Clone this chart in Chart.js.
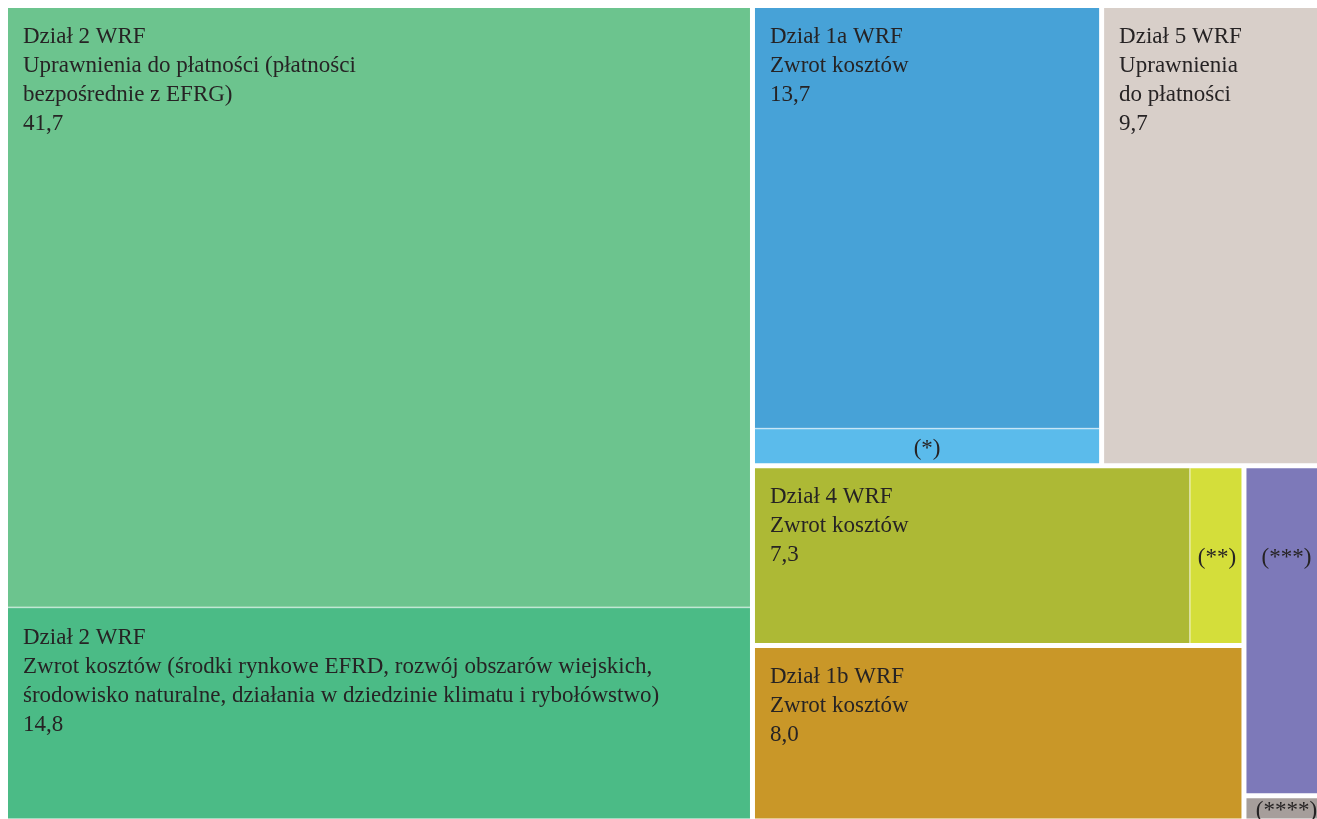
<!DOCTYPE html>
<html lang="pl">

<head>
    <meta charset="UTF-8">
    <title>Podział wydatków WRF</title>
    <script src="https://cdn.jsdelivr.net/npm/chart.js"></script>
    <style>
        body { margin: 0; background: #ffffff; }
        #wrap { width: 1317px; height: 819px; position: relative; }
    </style>
</head>

<body>
    <div id="wrap"><canvas id="treeChart"></canvas></div>

    <script>
        // Cells of the treemap, in drawing order
        const headings = ["Dział 2 WRF", "Dział 2 WRF", "Dział 1a WRF", "", "Dział 5 WRF", "Dział 4 WRF", "", "Dział 1b WRF", "", ""];
        const descriptions = [
            ["Uprawnienia do płatności (płatności", "bezpośrednie z EFRG)"],
            ["Zwrot kosztów (środki rynkowe EFRD, rozwój obszarów wiejskich,", "środowisko naturalne, działania w dziedzinie klimatu i rybołówstwo)"],
            ["Zwrot kosztów"],
            [],
            ["Uprawnienia", "do płatności"],
            ["Zwrot kosztów"],
            [],
            ["Zwrot kosztów"],
            [],
            []
        ];
        const values = [41.7, 14.8, 13.7, 1.2, 9.7, 7.3, 0.9, 8.0, 2.6, 0.2];
        const showValue = [true, true, true, false, true, true, false, true, false, false];
        const footnotes = ["", "", "", "(*)", "", "", "(**)", "", "(***)", "(****)"];

        // Which cells belong together (white gap between groups, thin line inside)
        const groupOf = [0, 0, 1, 1, 2, 3, 3, 4, 5, 6];

        const colors = ["#6cc48e", "#4bbb86", "#47a2d7", "#5bbbeb", "#d8cfc9",
                        "#adb935", "#d4de3a", "#c99728", "#7d79b9", "#a69e9b"];

        // Split structure: 'h' = side by side, 'v' = stacked; numbers are cell indexes
        const splitTree = { dir: "h", children: [
            { dir: "v", children: [0, 1] },
            { dir: "v", children: [
                { dir: "h", children: [{ dir: "v", children: [2, 3] }, 4] },
                { dir: "h", children: [
                    { dir: "v", children: [{ dir: "h", children: [5, 6] }, 7] },
                    { dir: "v", children: [8, 9] }
                ] }
            ] }
        ] };

        function nodeSum(node) {
            if (typeof node === "number") return values[node];
            return node.children.reduce((s, c) => s + nodeSum(c), 0);
        }

        // slice and dice layout in data units (box 0..1 x 0..1)
        let cells = [];
        function layout(node, x0, y0, x1, y1) {
            if (typeof node === "number") {
                cells[node] = { x0: x0, y0: y0, x1: x1, y1: y1 };
                return;
            }
            let total = nodeSum(node);
            let pos = node.dir === "h" ? x0 : y0;
            node.children.forEach(child => {
                let frac = nodeSum(child) / total;
                if (node.dir === "h") {
                    let next = pos + frac * (x1 - x0);
                    layout(child, pos, y0, next, y1);
                    pos = next;
                } else {
                    let next = pos + frac * (y1 - y0);
                    layout(child, x0, pos, x1, next);
                    pos = next;
                }
            });
        }
        layout(splitTree, 0, 0, 1, 1);

        // the picture is cropped a little at the right and bottom
        const X_VIEW = 0.991;
        const Y_VIEW = 0.9974;
        const GAP = 2.5;
        const FONT = "23px 'Liberation Serif', 'Times New Roman', serif";
        const TEXT_COLOR = "#262324";

        function fmt(v) {
            return v.toFixed(1).replace(".", ",");
        }

        const treemapPlugin = {
            id: "treemapCells",
            afterDatasetsDraw(chart) {
                const ctx = chart.ctx;
                const xs = chart.scales.x, ys = chart.scales.y;
                const px = c => ({
                    l: xs.getPixelForValue(c.x0), r: xs.getPixelForValue(c.x1),
                    t: ys.getPixelForValue(c.y0), b: ys.getPixelForValue(c.y1)
                });

                // group bounds
                let groups = {};
                cells.forEach((c, i) => {
                    let g = groupOf[i];
                    if (!groups[g]) groups[g] = { x0: c.x0, y0: c.y0, x1: c.x1, y1: c.y1 };
                    else {
                        groups[g].x0 = Math.min(groups[g].x0, c.x0);
                        groups[g].y0 = Math.min(groups[g].y0, c.y0);
                        groups[g].x1 = Math.max(groups[g].x1, c.x1);
                        groups[g].y1 = Math.max(groups[g].y1, c.y1);
                    }
                });

                Object.keys(groups).forEach(g => {
                    let gp = px(groups[g]);
                    ctx.save();
                    ctx.beginPath();
                    ctx.rect(gp.l + GAP, gp.t + GAP, gp.r - gp.l - 2 * GAP, gp.b - gp.t - 2 * GAP);
                    ctx.clip();
                    cells.forEach((c, i) => {
                        if (groupOf[i] != g) return;
                        let p = px(c);
                        ctx.fillStyle = colors[i];
                        ctx.fillRect(p.l, p.t, p.r - p.l, p.b - p.t);
                        ctx.strokeStyle = "rgba(255,255,255,0.45)";
                        ctx.lineWidth = 1.5;
                        ctx.strokeRect(p.l, p.t, p.r - p.l, p.b - p.t);
                    });
                    ctx.restore();
                });

                // labels
                ctx.save();
                ctx.font = FONT;
                ctx.fillStyle = TEXT_COLOR;
                cells.forEach((c, i) => {
                    let p = px(c);
                    let top = p.t + GAP;
                    let left = p.l + GAP;
                    if (headings[i]) {
                        let lines = [headings[i]].concat(descriptions[i]);
                        if (showValue[i]) lines.push(fmt(values[i]));
                        ctx.textAlign = "left";
                        ctx.textBaseline = "alphabetic";
                        lines.forEach((line, k) => {
                            ctx.fillText(line, left + 15, top + 34.5 + k * 29);
                        });
                    } else if (footnotes[i]) {
                        // (***) sits level with (**)
                        let ref = i === 8 ? px(cells[6]) : p;
                        let cy = (ref.t + ref.b) / 2 + 2;
                        if (i === 9) cy = (p.t + GAP + p.b) / 2 + 1;
                        ctx.textAlign = "center";
                        ctx.textBaseline = "middle";
                        let cx = (p.l + GAP + p.r - GAP) / 2;
                        ctx.fillText(footnotes[i], cx, cy);
                    }
                });
                ctx.restore();
            }
        };

        new Chart(document.getElementById("treeChart"), {
            type: "scatter",
            data: { datasets: [{ data: [] }] },
            options: {
                responsive: true,
                maintainAspectRatio: false,
                animation: false,
                events: [],
                layout: { padding: { left: 5.5, top: 5.5, right: 0, bottom: 0 } },
                scales: {
                    x: { type: "linear", min: 0, max: X_VIEW, display: false },
                    y: { type: "linear", min: 0, max: Y_VIEW, reverse: true, display: false }
                },
                plugins: {
                    legend: { display: false },
                    tooltip: { enabled: false }
                }
            },
            plugins: [treemapPlugin]
        });
    </script>
</body>

</html>
